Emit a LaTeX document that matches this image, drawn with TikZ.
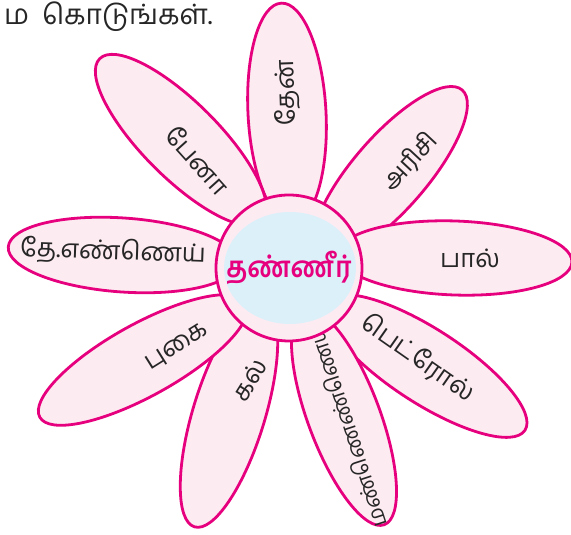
\documentclass[tikz,border=0pt]{standalone}
\usepackage{fontspec}
\newfontfamily\tamil[Script=Tamil]{Hind Madurai}
\usepackage{tikz}
\usetikzlibrary{shapes.geometric}
\definecolor{petalline}{HTML}{E6007E}
\definecolor{petalfill}{HTML}{FDEBF2}
\definecolor{poolfill}{HTML}{DCF0FA}

\begin{document}
\begin{tikzpicture}[
  x=1pt, y=1pt,
  font=\tamil\fontsize{25.5}{30}\selectfont,
  petal/.style={draw=petalline, fill=petalfill, line width=2.8pt, ellipse,
    inner sep=0pt},
  word/.style={text=black!85, inner sep=0pt},
  hub/.style={circle, draw=petalline, fill=petalfill, line width=2.8pt,
    minimum size=146pt, inner sep=0pt},
]
  \useasboundingbox (0,0) rectangle (571,535);

  \node[word, anchor=west, font=\tamil\fontsize{28}{30}\selectfont]
    (ask) at (4,518) {ம\hspace{6pt} கொடுங்கள்.};

  % petals: name/x/y/length/width/angle
  \foreach \n/\x/\y/\l/\w/\a in {
      honey/287/422/220/78/93, pen/181/395/230/76/135,
      rice/390/362/220/74/49, milk/455/277/234/74/-2,
      petrol/426/169/236/74/-33, kerosene/344/118/230/72/-69.5,
      stone/229/121/236/72/-107, smoke/143/175/236/72/-151,
      oil/123/280/230/74/176}
    \node[petal, minimum width=\l pt, minimum height=\w pt, rotate=\a]
      (\n) at (\x,\y) {};

  \node[word, rotate=92] (honeyw) at (287,442) {தேன்};
  \node[word, rotate=-48] (penw) at (198,375) {பேனா};
  \node[word, rotate=47] (ricew) at (410,373) {அரிசி};
  \node[word] (milkw) at (470,277) {பால்};
  \node[word, rotate=-35] (petrolw) at (418,177) {பெட்ரோல்};
  \node[word, rotate=108, font=\tamil\fontsize{21.5}{26}\selectfont]
    (kerosenew) at (346,109) {மண்ணெண்ணெய்};
  \node[word, rotate=58] (stonew) at (249,155) {கல்};
  \node[word, rotate=32] (smokew) at (177,188) {புகை};
  \node[word, rotate=-2] (oilw) at (113,283) {தே.எண்ணெய்};

  \node[hub] (centre) at (289,267) {};
  \node[ellipse, fill=poolfill, minimum width=132pt, minimum height=112pt,
    inner sep=0pt] (pool) at (290,267) {};
  \node[text=petalline, xscale=0.9,
    font=\tamil\bfseries\fontsize{29}{32}\selectfont]
    (water) at (centre) {தண்ணீர்};
\end{tikzpicture}
\end{document}
